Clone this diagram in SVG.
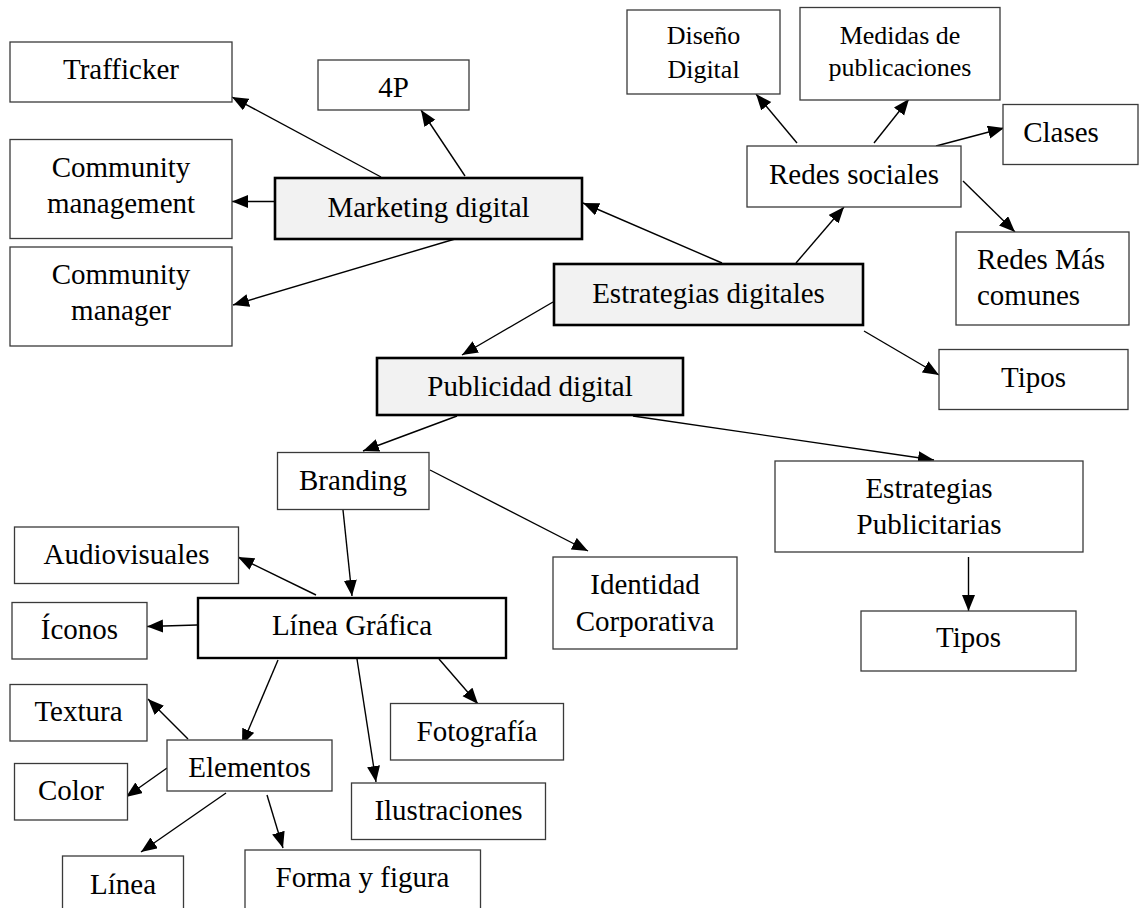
<svg xmlns="http://www.w3.org/2000/svg" width="1139" height="908" viewBox="0 0 1139 908">
  <style>
    .box { fill: #ffffff; stroke: #3a3a3a; stroke-width: 1.3; }
    .main { fill: #f2f2f2; stroke: #000000; stroke-width: 2.6; }
    .bold { fill: #ffffff; stroke: #000000; stroke-width: 2.4; }
    text { font-family: "Liberation Serif", "Times New Roman", serif; font-size: 29px; fill: #000000; text-anchor: middle; }
    text.sm { font-size: 26px; }
    text.left { text-anchor: start; }
    .edge { stroke: #000000; stroke-width: 1.4; fill: none; marker-end: url(#arrow); }
  </style>
  <defs>
    <marker id="arrow" markerUnits="userSpaceOnUse" markerWidth="17" markerHeight="14" refX="16" refY="6.5" orient="auto">
      <path d="M0,0 L16,6.5 L0,13 Z" fill="#000000"/>
    </marker>
  </defs>
  <rect width="1139" height="908" fill="#ffffff"/>

  <g id="connectors">
    <line class="edge" x1="381" y1="177" x2="232" y2="97"/>
    <line class="edge" x1="465" y1="176" x2="421" y2="110"/>
    <line class="edge" x1="274" y1="201.5" x2="232" y2="201.5"/>
    <line class="edge" x1="455" y1="239" x2="233" y2="305"/>
    <line class="edge" x1="722" y1="263" x2="583" y2="203"/>
    <line class="edge" x1="796" y1="263" x2="844" y2="207"/>
    <line class="edge" x1="797" y1="143" x2="756" y2="94"/>
    <line class="edge" x1="874" y1="143" x2="909" y2="99"/>
    <line class="edge" x1="936" y1="146" x2="1004" y2="128"/>
    <line class="edge" x1="963" y1="181" x2="1015" y2="232"/>
    <line class="edge" x1="864" y1="331" x2="939" y2="375"/>
    <line class="edge" x1="553" y1="302" x2="462" y2="355"/>
    <line class="edge" x1="457" y1="416" x2="363" y2="451"/>
    <line class="edge" x1="633" y1="416" x2="934" y2="460"/>
    <line class="edge" x1="968.5" y1="557" x2="968.5" y2="611"/>
    <line class="edge" x1="430" y1="470" x2="588" y2="551"/>
    <line class="edge" x1="343" y1="510" x2="352" y2="596"/>
    <line class="edge" x1="316" y1="595" x2="238" y2="557"/>
    <line class="edge" x1="197" y1="625" x2="147" y2="626.5"/>
    <line class="edge" x1="278" y1="660" x2="242" y2="745"/>
    <line class="edge" x1="357" y1="659" x2="376" y2="782"/>
    <line class="edge" x1="439" y1="659" x2="478" y2="704"/>
    <line class="edge" x1="188" y1="739" x2="148" y2="699"/>
    <line class="edge" x1="167" y1="768" x2="126" y2="797"/>
    <line class="edge" x1="226" y1="793" x2="141" y2="852"/>
    <line class="edge" x1="267" y1="795" x2="283" y2="848"/>
  </g>

  <g id="trafficker">
    <rect class="box" x="10" y="42" width="222" height="60"/>
    <text x="121" y="79">Trafficker</text>
  </g>
  <g id="cuatro-p">
    <rect class="box" x="318" y="60" width="151" height="50"/>
    <text x="393.5" y="96.5">4P</text>
  </g>
  <g id="community-management">
    <rect class="box" x="10" y="139.5" width="222" height="99"/>
    <text x="121" y="176.5">Community</text>
    <text x="121" y="212.5">management</text>
  </g>
  <g id="marketing-digital">
    <rect class="main" x="275" y="178" width="307" height="61"/>
    <text x="428.5" y="216.5">Marketing digital</text>
  </g>
  <g id="community-manager">
    <rect class="box" x="10" y="247" width="222" height="99"/>
    <text x="121" y="283.5">Community</text>
    <text x="121" y="320">manager</text>
  </g>
  <g id="diseno-digital">
    <rect class="box" x="627" y="10" width="153" height="84"/>
    <text class="sm" x="703.5" y="44">Diseño</text>
    <text class="sm" x="703.5" y="77.5">Digital</text>
  </g>
  <g id="medidas-publicaciones">
    <rect class="box" x="800" y="7.5" width="200" height="92.5"/>
    <text class="sm" x="900" y="43.5">Medidas de</text>
    <text class="sm" x="900" y="76">publicaciones</text>
  </g>
  <g id="clases">
    <rect class="box" x="1003" y="104.5" width="135" height="60"/>
    <text x="1061" y="141.5">Clases</text>
  </g>
  <g id="redes-sociales">
    <rect class="box" x="747" y="146" width="214" height="61"/>
    <text x="854" y="183.5">Redes sociales</text>
  </g>
  <g id="redes-mas-comunes">
    <rect class="box" x="956" y="232" width="173" height="93"/>
    <text class="left" x="977" y="268.5">Redes Más</text>
    <text class="left" x="977" y="305">comunes</text>
  </g>
  <g id="estrategias-digitales">
    <rect class="main" x="554" y="264" width="309" height="61"/>
    <text x="708.5" y="302.5">Estrategias digitales</text>
  </g>
  <g id="tipos-estrategias">
    <rect class="box" x="939" y="349.5" width="189" height="60"/>
    <text x="1033.5" y="386.5">Tipos</text>
  </g>
  <g id="publicidad-digital">
    <rect class="main" x="377" y="358" width="306" height="57"/>
    <text x="530" y="395.5">Publicidad digital</text>
  </g>
  <g id="branding">
    <rect class="box" x="277.5" y="452.5" width="151.5" height="57"/>
    <text x="353" y="490">Branding</text>
  </g>
  <g id="identidad-corporativa">
    <rect class="box" x="553" y="557" width="184" height="92"/>
    <text x="645" y="593.5">Identidad</text>
    <text x="645" y="630.5">Corporativa</text>
  </g>
  <g id="estrategias-publicitarias">
    <rect class="box" x="775" y="461" width="308" height="91"/>
    <text x="929" y="497.5">Estrategias</text>
    <text x="929" y="533.5">Publicitarias</text>
  </g>
  <g id="tipos-publicitarias">
    <rect class="box" x="861" y="611" width="215" height="60"/>
    <text x="968.5" y="646.5">Tipos</text>
  </g>
  <g id="audiovisuales">
    <rect class="box" x="14.5" y="527" width="224" height="56.5"/>
    <text x="126.5" y="564">Audiovisuales</text>
  </g>
  <g id="linea-grafica">
    <rect class="bold" x="198" y="598" width="308" height="60"/>
    <text x="352" y="635">Línea Gráfica</text>
  </g>
  <g id="iconos">
    <rect class="box" x="12" y="602.5" width="135" height="56.5"/>
    <text x="79.5" y="638.5">Íconos</text>
  </g>
  <g id="textura">
    <rect class="box" x="10" y="684.5" width="137" height="56.5"/>
    <text x="78.5" y="720.5">Textura</text>
  </g>
  <g id="elementos">
    <rect class="box" x="167" y="740" width="165" height="51"/>
    <text x="249.5" y="776.5">Elementos</text>
  </g>
  <g id="color">
    <rect class="box" x="14.5" y="763.5" width="113" height="56.5"/>
    <text x="71" y="800">Color</text>
  </g>
  <g id="fotografia">
    <rect class="box" x="390.5" y="703.5" width="173" height="56.5"/>
    <text x="477" y="740.5">Fotografía</text>
  </g>
  <g id="ilustraciones">
    <rect class="box" x="351.5" y="783" width="194" height="56.5"/>
    <text x="448.5" y="819.5">Ilustraciones</text>
  </g>
  <g id="linea">
    <rect class="box" x="62.5" y="856" width="121" height="70"/>
    <text x="123" y="893.5">Línea</text>
  </g>
  <g id="forma-figura">
    <rect class="box" x="245" y="850" width="235.5" height="76"/>
    <text x="362.5" y="886.5">Forma y figura</text>
  </g>
</svg>
